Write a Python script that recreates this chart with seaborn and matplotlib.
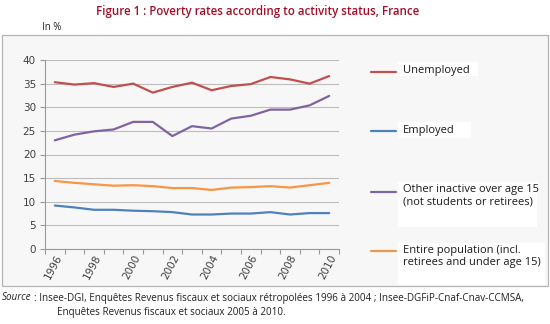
import matplotlib
matplotlib.use("Agg")
import matplotlib.pyplot as plt
from matplotlib.patches import Rectangle
from matplotlib.lines import Line2D
import seaborn as sns
import pandas as pd

years = list(range(1996, 2011))
unemployed = [35.3, 34.8, 35.1, 34.3, 35.0, 33.1, 34.3, 35.2, 33.6, 34.5, 34.9, 36.4, 35.9, 35.0, 36.6]
employed = [9.2, 8.8, 8.3, 8.3, 8.1, 8.0, 7.8, 7.3, 7.3, 7.5, 7.5, 7.8, 7.3, 7.6, 7.6]
other_inactive = [23.0, 24.2, 24.9, 25.3, 26.9, 26.9, 23.9, 26.0, 25.5, 27.6, 28.2, 29.5, 29.5, 30.4, 32.4]
entire_population = [14.4, 14.0, 13.7, 13.4, 13.5, 13.3, 12.9, 12.9, 12.5, 13.0, 13.1, 13.3, 13.0, 13.5, 14.0]

series_names = ["Unemployed", "Employed",
                "Other inactive over age 15\n(not students or retirees)",
                "Entire population (incl.\nretirees and under age 15)"]
series_values = [unemployed, employed, other_inactive, entire_population]
series_colors = ["#C0504D", "#4F81BD", "#8064A2", "#F79646"]

yticks = [0, 5, 10, 15, 20, 25, 30, 35, 40]
xtick_labels = [str(y) for y in years[::2]]

rows = []
for name, vals in zip(series_names, series_values):
    for i, (yr, v) in enumerate(zip(years, vals)):
        rows.append({"pos": i, "year": yr, "rate": v, "series": name})
df = pd.DataFrame(rows)

sns.set_theme(style="white")
plt.rcParams["font.family"] = ["DejaVu Sans"]

fig = plt.figure(figsize=(5.5, 3.24), dpi=100)
W, H = 550, 324

# chart frame
fig.patches.append(Rectangle((2 / W, 1 - 286 / H), 546 / W, 251 / H,
                             transform=fig.transFigure, facecolor="#F7F7F7",
                             edgecolor="#B5B5B5", linewidth=0.9, zorder=-5))

ax = fig.add_axes([45 / W, 1 - 249 / H, 294 / W, 189 / H])
ax.set_facecolor("none")
ax.set_zorder(2)

sns.lineplot(data=df, x="pos", y="rate", hue="series", hue_order=series_names,
             palette=series_colors, linewidth=1.6, ax=ax, legend=False)

ax.set_xlim(-0.5, len(years) - 0.5)
ax.set_ylim(0, 40)
ax.set_yticks(yticks)
ax.set_yticklabels([str(t) for t in yticks], fontsize=7.5, color="#404040")
ax.yaxis.grid(True, color="#BDBDBD", linewidth=0.8)
ax.set_axisbelow(True)

ax.set_xticks([p - 0.5 for p in range(len(years) + 1)])
ax.set_xticklabels([])
ax.set_xticks(list(range(0, len(years), 2)), minor=True)
ax.set_xticklabels(xtick_labels, minor=True, rotation=62, ha="right",
                   rotation_mode="anchor", fontsize=7.5, color="#404040")
ax.tick_params(axis="x", which="major", direction="out", length=3.5, width=0.8,
               color="#9A9A9A", bottom=True)
ax.tick_params(axis="x", which="minor", length=0, pad=3)
ax.tick_params(axis="y", direction="out", length=3.5, width=0.8, color="#9A9A9A",
               left=True, pad=3)
ax.set_xlabel("")
ax.set_ylabel("")
for side in ["top", "right"]:
    ax.spines[side].set_visible(False)
for side in ["left", "bottom"]:
    ax.spines[side].set_color("#9A9A9A")
    ax.spines[side].set_linewidth(0.8)

# legend drawn beside the plot: white label boxes, sample lines, texts
legend_line_y = [72, 131, 192, 251]
legend_text_y = [69, 129, 188, 249]
legend_box = [(398, 62, 80, 14), (398, 122, 73, 16), (398, 182, 139, 45), (398, 243, 147, 42)]
for name, color, ly, ty, (bx, by, bw, bh) in zip(series_names, series_colors,
                                                  legend_line_y, legend_text_y, legend_box):
    fig.patches.append(Rectangle((bx / W, 1 - (by + bh) / H), bw / W, bh / H,
                                 transform=fig.transFigure, facecolor="white",
                                 edgecolor="none", zorder=-1))
    fig.lines.append(Line2D([371 / W, 396 / W], [1 - ly / H] * 2,
                            transform=fig.transFigure, color=color, linewidth=1.6))
    fig.text(403 / W, 1 - (ty - 4) / H, name, fontsize=8, color="#1A1A1A",
             family=["Open Sans", "DejaVu Sans"], va="top", ha="left",
             linespacing=1.15)

# titles and notes
fig.text(258 / W, 1 - 12 / H, "Figure 1 : Poverty rates according to activity status, France",
         fontsize=8.3, color="#A0102A", ha="center", va="center",
         family=["Open Sans", "DejaVu Sans"], fontweight="semibold")
fig.text(42 / W, 1 - 27 / H, "In %", fontsize=7, color="#222222", ha="left", va="center",
         family=["Open Sans", "DejaVu Sans"])
fig.text(2 / W, 1 - 298 / H, "Source", fontsize=7.1, style="italic", color="#222222",
         ha="left", va="center", family=["Open Sans", "DejaVu Sans"])
fig.text(34 / W, 1 - 298 / H,
         ": Insee-DGI, Enquêtes Revenus fiscaux et sociaux rétropolées 1996 à 2004 ; "
         "Insee-DGFiP-Cnaf-Cnav-CCMSA,",
         fontsize=7.1, color="#222222", ha="left", va="center",
         family=["Open Sans", "DejaVu Sans"])
fig.text(57 / W, 1 - 312 / H, "Enquêtes Revenus fiscaux et sociaux 2005 à 2010.",
         fontsize=7.1, color="#222222", ha="left", va="center",
         family=["Open Sans", "DejaVu Sans"])

fig.savefig("out.png", dpi=100)
